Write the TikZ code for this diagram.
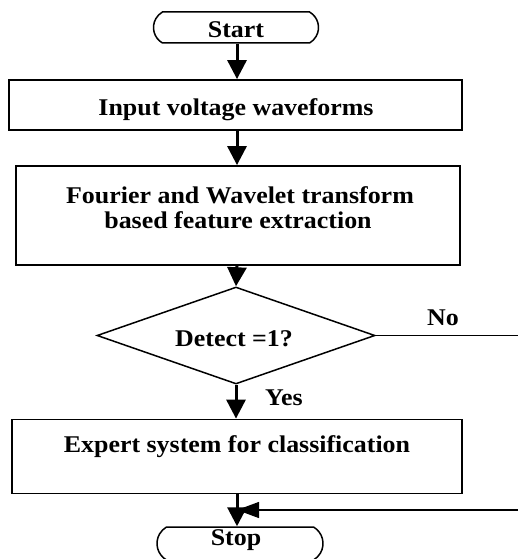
\documentclass[tikz,border=0pt]{standalone}
\usepackage{fontspec}
\setmainfont{Liberation Serif}[FakeStretch=1.08]
\usetikzlibrary{shapes.geometric,shapes.misc,arrows.meta}
\tikzset{
  lbl/.style={font=\fontsize{24}{25}\selectfont\bfseries, inner sep=0pt, anchor=base},
  box/.style={draw, line width=1.8pt, inner sep=0pt},
  term/.style={draw, line width=1.5pt, rounded rectangle, rounded rectangle arc length=120, inner sep=0pt},
  dec/.style={draw, line width=1.5pt, diamond, inner sep=0pt},
  flow/.style={line width=3pt, -{Triangle[length=19pt,width=19pt]}},
  thin/.style={line width=1.3pt},
  back/.style={line width=1.3pt, -{Triangle[length=22pt,width=16pt]}}
}
\begin{document}
\begin{tikzpicture}[x=1pt,y=-1pt]
\useasboundingbox (0,0) rectangle (518,559);
\clip (0,0) rectangle (518,559);
% nodes
\node[term, minimum width=165pt, minimum height=31pt] (start) at (236,27.5) {};
\node[lbl] at (236,38) {Start};
\node[box, minimum width=453pt, minimum height=50pt] (b1) at (235.5,105) {};
\node[lbl] at (236,116) {Input voltage waveforms};
\node[box, minimum width=444pt, minimum height=99pt] (b2) at (238,215.5) {};
\node[lbl] at (240,203) {Fourier and Wavelet transform};
\node[lbl] at (238,228) {based feature extraction};
\node[dec, minimum width=278pt, minimum height=97pt] (d) at (236,335.5) {};
\node[lbl] at (234,346) {Detect =1?};
\node[box, minimum width=450pt, minimum height=74pt] (b3) at (237,456.5) {};
\node[lbl] at (237,452) {Expert system for classification};
\node[term, minimum width=166pt, minimum height=33pt] (stop) at (240,543.5) {};
\node[lbl] at (236,545) {Stop};
\node[lbl] at (443,325) {No};
\node[lbl, anchor=base west] at (265,405) {Yes};
% coordinates
\coordinate (noend) at (518,335.5);
\coordinate (ret) at (518,510);
\coordinate (x0) at (237,0);
% connectors
\draw[flow] (x0 |- start.south) -- (x0 |- b1.north);
\draw[flow] (x0 |- b1.south) -- (x0 |- b2.north);
\draw[flow] (x0 |- b2.south) -- (d.north);
\draw[flow] (d.south) -- (d.south |- b3.north);
\draw[flow] (x0 |- b3.south) -- (x0 |- stop.north);
\draw[thin] (d.east) -- (noend);
\draw[back] (ret) -- (x0 |- ret);
\end{tikzpicture}
\end{document}
